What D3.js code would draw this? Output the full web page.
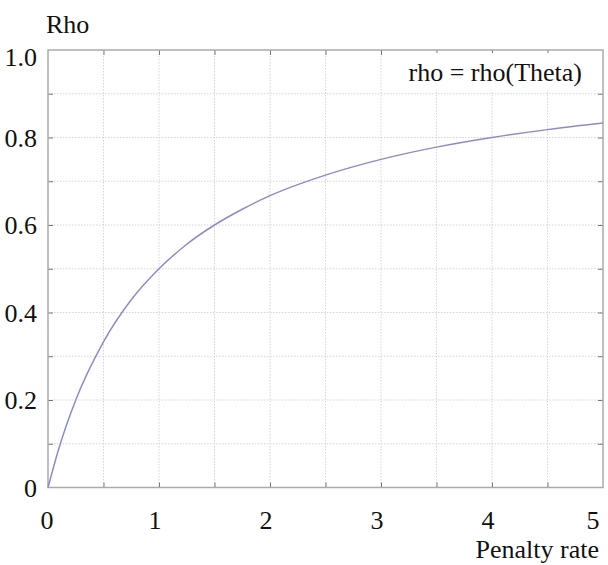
<!DOCTYPE html>
<html>
<head>
<meta charset="utf-8">
<script src="https://cdn.jsdelivr.net/npm/d3@7"></script>
<style>
  body { margin: 0; background: #fff; }
</style>
</head>
<body>
<div id="chart"></div>
<script>
// values
var penaltyRate = [0, 0.1, 0.25, 0.5, 0.75, 1, 1.25, 1.5, 1.75, 2, 2.5, 3, 3.5, 4, 4.5, 5];
var rhoValues   = [0, 0.091, 0.2, 0.333, 0.429, 0.5, 0.556, 0.6, 0.636, 0.667, 0.714, 0.75, 0.778, 0.8, 0.818, 0.833];

var xTicks = [0, 1, 2, 3, 4, 5];
var yTicks = [0, 0.2, 0.4, 0.6, 0.8, 1.0];
var xGrid = [0.5, 1, 1.5, 2, 2.5, 3, 3.5, 4, 4.5];
var yGrid = [0.1, 0.2, 0.3, 0.4, 0.5, 0.6, 0.7, 0.8, 0.9];

var svgWidth = 608;
var svgHeight = 565;

var margin = {
  top: 50,
  right: 5,
  bottom: 77.5,
  left: 48
};

var chartWidth = svgWidth - margin.left - margin.right;
var chartHeight = svgHeight - margin.top - margin.bottom;

// pick the first serif face that is really there
function pickSerif() {
  var ctx = document.createElement("canvas").getContext("2d");
  var probe = "Penalty rate rho(Theta) 0.8";
  function w(f) { ctx.font = "26px " + f; return ctx.measureText(probe).width; }
  var mono = w("monospace"), sans = w("sans-serif");
  var names = ["Liberation Serif", "Tinos", "Times New Roman", "Noto Serif", "DejaVu Serif", "FreeSerif"];
  for (var i = 0; i < names.length; i++) {
    var a = w("'" + names[i] + "', monospace");
    var b = w("'" + names[i] + "', sans-serif");
    if (a != mono || b != sans) return "'" + names[i] + "', serif";
  }
  return "serif";
}
var serif = pickSerif();

var svg = d3.select("#chart").append("svg")
  .attr("width", svgWidth)
  .attr("height", svgHeight);

var chartGroup = svg.append("g")
  .attr("transform", `translate(${margin.left}, ${margin.top})`);

var xScale = d3.scaleLinear()
  .domain([0, 5])
  .range([0, chartWidth]);

var yScale = d3.scaleLinear()
  .domain([0, 1])
  .range([chartHeight, 0]);

// dotted grid
chartGroup.append("g")
  .selectAll("line")
  .data(xGrid)
  .enter()
  .append("line")
  .attr("x1", d => xScale(d))
  .attr("x2", d => xScale(d))
  .attr("y1", 0)
  .attr("y2", chartHeight)
  .attr("stroke", "#d4d4d4")
  .attr("stroke-dasharray", "1.5,1.5");

chartGroup.append("g")
  .selectAll("line")
  .data(yGrid)
  .enter()
  .append("line")
  .attr("x1", 0)
  .attr("x2", chartWidth)
  .attr("y1", d => yScale(d))
  .attr("y2", d => yScale(d))
  .attr("stroke", "#d4d4d4")
  .attr("stroke-dasharray", "1.5,1.5");

// inner tick marks on all four sides
var tickLen = 5;
var xAxisBottom = d3.axisBottom(xScale).tickValues(xGrid).tickSize(-tickLen).tickFormat("");
var xAxisTop = d3.axisTop(xScale).tickValues(xGrid).tickSize(-tickLen).tickFormat("");
var yAxisLeft = d3.axisLeft(yScale).tickValues(yGrid).tickSize(-tickLen).tickFormat("");
var yAxisRight = d3.axisRight(yScale).tickValues(yGrid).tickSize(-tickLen).tickFormat("");

chartGroup.append("g").attr("transform", `translate(0, ${chartHeight})`).call(xAxisBottom);
chartGroup.append("g").call(xAxisTop);
chartGroup.append("g").call(yAxisLeft);
chartGroup.append("g").attr("transform", `translate(${chartWidth}, 0)`).call(yAxisRight);

chartGroup.selectAll(".domain").remove();
chartGroup.selectAll(".tick line").attr("stroke", "#777").attr("stroke-width", 1);

// white box behind the legend text
chartGroup.append("rect")
  .attr("x", xScale(4.9) - 208)
  .attr("y", 3)
  .attr("width", 205)
  .attr("height", 37)
  .attr("fill", "#fff");

// frame
chartGroup.append("rect")
  .attr("x", 0)
  .attr("y", 0)
  .attr("width", chartWidth)
  .attr("height", chartHeight)
  .attr("fill", "none")
  .attr("stroke", "#aaa")
  .attr("stroke-width", 1.5);

// the curve
var line = d3.line()
  .x((d, i) => xScale(penaltyRate[i]))
  .y((d, i) => yScale(rhoValues[i]))
  .curve(d3.curveMonotoneX);

chartGroup.append("path")
  .datum(rhoValues)
  .attr("d", line)
  .attr("fill", "none")
  .attr("stroke", "#8c8cc4")
  .attr("stroke-width", 1.5);

// tick labels
chartGroup.append("g")
  .selectAll("text")
  .data(xTicks)
  .enter()
  .append("text")
  .attr("x", d => d == 5 ? chartWidth - 10 : xScale(d) - (d == 0 ? 1 : 4))
  .attr("y", chartHeight + 41)
  .attr("text-anchor", "middle")
  .style("font-family", serif)
  .style("font-size", "26px")
  .attr("fill", "#111")
  .text(d => d);

chartGroup.append("g")
  .selectAll("text")
  .data(yTicks)
  .enter()
  .append("text")
  .attr("x", -11)
  .attr("y", d => d == 1 ? yScale(d) + 16 : yScale(d) + 9)
  .attr("text-anchor", "end")
  .style("font-family", serif)
  .style("font-size", "26px")
  .attr("fill", "#111")
  .text(d => d == 0 ? "0" : d3.format(".1f")(d));

// axis titles and legend
svg.append("text")
  .attr("x", 46)
  .attr("y", 33)
  .style("font-family", serif)
  .style("font-size", "26px")
  .attr("fill", "#111")
  .text("Rho");

svg.append("text")
  .attr("x", 599)
  .attr("y", 558)
  .attr("text-anchor", "end")
  .style("font-family", serif)
  .style("font-size", "26px")
  .attr("fill", "#111")
  .text("Penalty rate");

chartGroup.append("text")
  .attr("x", 582 - margin.left)
  .attr("y", 81 - margin.top)
  .attr("text-anchor", "end")
  .style("font-family", serif)
  .style("font-size", "26px")
  .attr("fill", "#111")
  .text("rho = rho(Theta)");
</script>
</body>
</html>
